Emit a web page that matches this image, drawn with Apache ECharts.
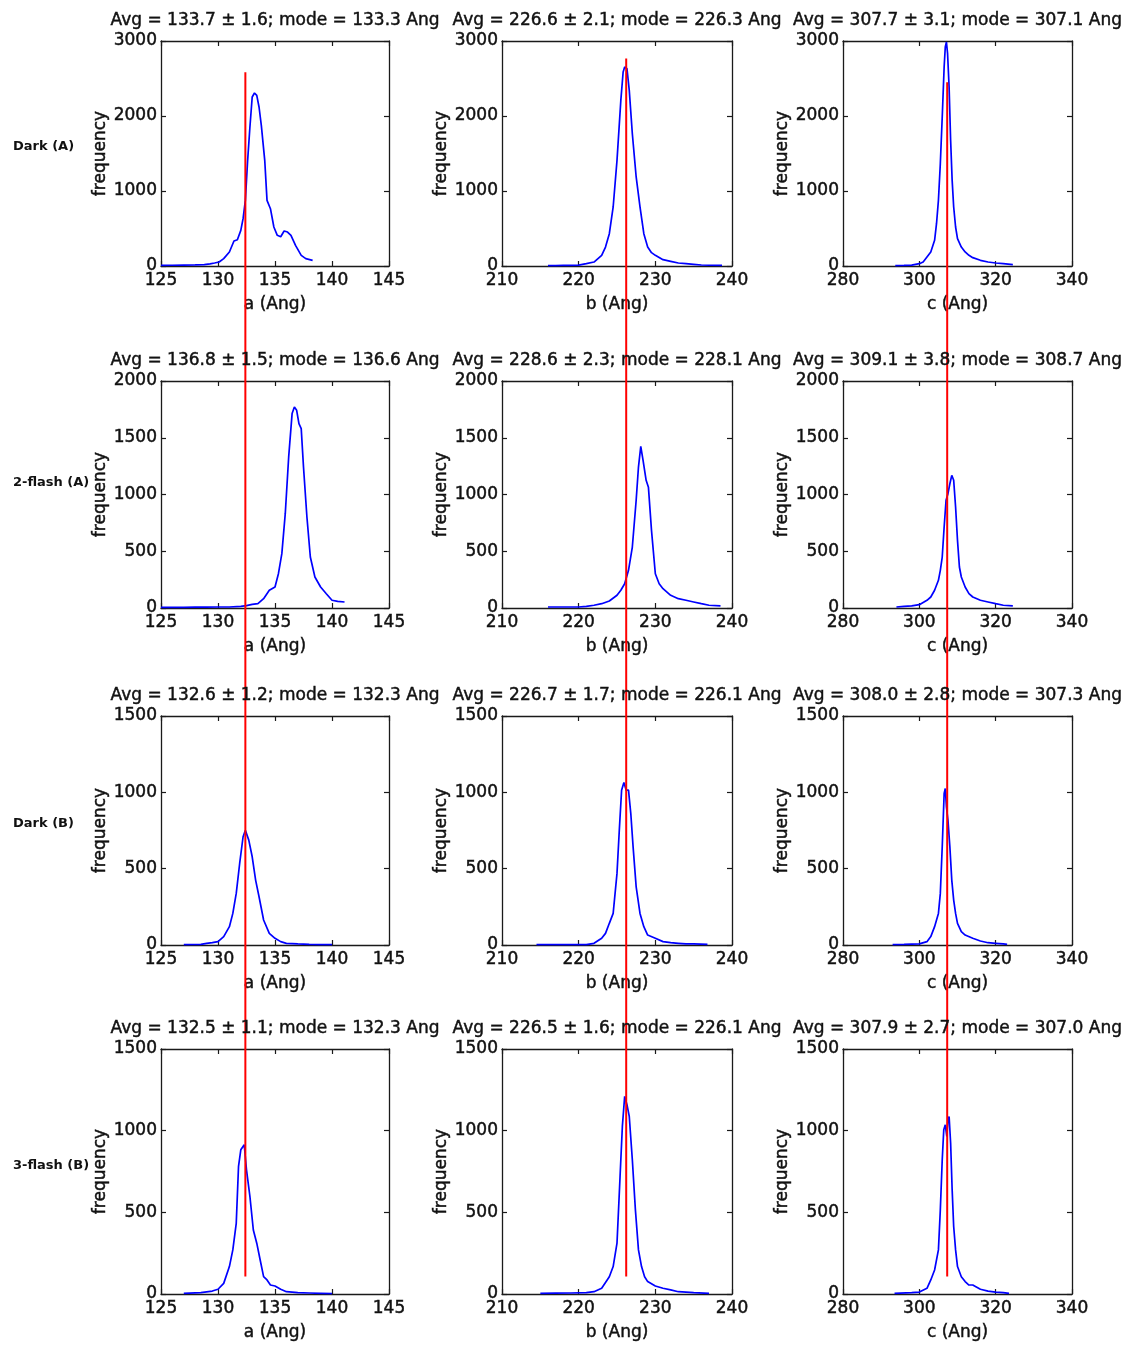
<!DOCTYPE html>
<html><head><meta charset="utf-8">
<script src="https://cdn.jsdelivr.net/npm/echarts@6/dist/echarts.min.js"></script>
<style>html,body{margin:0;padding:0;background:#fff}#chart{width:1136px;height:1347px}</style>
</head><body><div id="chart"></div>
<script>
// ---------- labels & axes ----------
const rowLabels = ['Dark (A)', '2-flash (A)', 'Dark (B)', '3-flash (B)'];
const xNames = ['a (Ang)', 'b (Ang)', 'c (Ang)'];
const yName = 'frequency';
const panelTitles = [
  ['Avg = 133.7 ± 1.6; mode = 133.3 Ang', 'Avg = 226.6 ± 2.1; mode = 226.3 Ang', 'Avg = 307.7 ± 3.1; mode = 307.1 Ang'],
  ['Avg = 136.8 ± 1.5; mode = 136.6 Ang', 'Avg = 228.6 ± 2.3; mode = 228.1 Ang', 'Avg = 309.1 ± 3.8; mode = 308.7 Ang'],
  ['Avg = 132.6 ± 1.2; mode = 132.3 Ang', 'Avg = 226.7 ± 1.7; mode = 226.1 Ang', 'Avg = 308.0 ± 2.8; mode = 307.3 Ang'],
  ['Avg = 132.5 ± 1.1; mode = 132.3 Ang', 'Avg = 226.5 ± 1.6; mode = 226.1 Ang', 'Avg = 307.9 ± 2.7; mode = 307.0 Ang']
];
const xMin = [125, 210, 280];
const xMax = [145, 240, 340];
const xInterval = [5, 10, 20];
const yMax = [3000, 2000, 1500, 1500];
const yInterval = [1000, 500, 500, 500];

// reference (red) lines, one per column
const redX = [132.4, 226.2, 307.3];
const redTopFrac = [0.975, 0.986, 0.967];
const redBottomFrac = 0.014;

// ---------- histogram data [x, frequency] ----------
const darkA_a = [[125.0,8],[126,10],[127,12],[128,14],[128.8,18],[129.3,28],[129.7,40],[130.1,53],[130.5,98],[131.0,187],[131.4,333],[131.7,351],[132.0,475],[132.2,631],[132.4,875],[132.6,1409],[132.8,1853],[133.0,2253],[133.2,2307],[133.4,2275],[133.6,2120],[133.8,1875],[134.1,1409],[134.3,875],[134.6,764],[134.9,520],[135.2,409],[135.5,390],[135.8,467],[136.1,453],[136.4,409],[136.8,276],[137.3,142],[137.7,98],[138.3,76]];
const darkA_b = [[216,5],[217,6],[218,8],[219,9],[220,12],[221,31],[222,53],[223,142],[223.5,253],[224,431],[224.5,787],[225,1409],[225.5,2209],[225.8,2587],[226.0,2653],[226.3,2631],[226.6,2342],[227.0,1764],[227.5,1187],[228,787],[228.5,431],[229,253],[229.5,178],[230,142],[231,84],[232,62],[233,40],[234,31],[235,22],[236,13],[237,10],[238.7,8]];
const darkA_c = [[293.7,5],[296,8],[298,12],[300,31],[301,53],[302,120],[303,187],[304,342],[304.5,564],[305,875],[305.5,1364],[306,1987],[306.5,2653],[306.8,2920],[307.1,2987],[307.4,2831],[307.8,2387],[308.2,1676],[308.6,1142],[309,787],[309.5,520],[310,364],[311,253],[312,187],[313,142],[314,111],[316,76],[318,53],[320,40],[322,31],[324.5,18]];

const flash2A_a = [[125,5],[126,6],[127,5],[128,7],[129,8],[130,9],[131,9],[132,15],[132.5,21],[133,32],[133.5,38],[134,82],[134.5,156],[135,185],[135.3,302],[135.6,479],[135.9,831],[136.2,1331],[136.5,1713],[136.7,1771],[136.9,1742],[137.1,1624],[137.3,1580],[137.5,1242],[137.8,802],[138.1,449],[138.5,273],[139,185],[139.5,126],[140,68],[140.5,59],[141.1,53]];
const flash2A_b = [[216,9],[218,9],[220,9],[221,15],[222,24],[223,38],[224,62],[225,112],[225.5,156],[226,214],[226.5,332],[227,537],[227.5,949],[227.8,1242],[228.1,1424],[228.4,1301],[228.8,1125],[229.1,1063],[229.5,684],[230,302],[230.5,214],[231,170],[232,112],[233,82],[234,68],[235,53],[236,38],[237,24],[238.5,18]];
const flash2A_c = [[294,9],[296,15],[298,18],[300,29],[302,68],[303,97],[304,156],[305,244],[305.5,332],[306,449],[306.5,714],[307,949],[307.5,1007],[308,1095],[308.5,1169],[309,1125],[309.5,890],[310,596],[310.5,361],[311,273],[312,185],[313,126],[314,97],[316,68],[318,53],[320,38],[322,24],[324.5,18]];

const darkB_a = [[127,2],[128.5,4],[129,11],[129.5,15],[130,22],[130.5,55],[131,120],[131.3,207],[131.6,338],[131.9,534],[132.2,709],[132.4,752],[132.7,687],[133.0,578],[133.3,425],[133.6,316],[134,164],[134.5,76],[135,44],[135.5,22],[136,11],[137,7],[138,4],[139,2],[140,2]];
const darkB_b = [[214.5,2],[216,2],[218,2],[220,2],[221,2],[222,11],[223,44],[223.5,76],[224,142],[224.5,207],[225,469],[225.3,752],[225.6,1014],[225.9,1064],[226.2,1014],[226.5,1014],[226.8,861],[227.1,643],[227.5,381],[228,207],[228.5,120],[229,65],[230,44],[231,22],[232,15],[233,11],[234,7],[235,7],[236.8,4]];
const darkB_c = [[293,2],[296,4],[300,7],[302,22],[303,55],[304,120],[305,207],[305.5,338],[306,643],[306.5,992],[306.8,1025],[307.1,905],[307.5,818],[308,643],[308.5,425],[309,294],[309.5,207],[310,142],[311,87],[312,65],[314,44],[316,26],[318,15],[320,11],[322,7],[323,4]];

const flash3B_a = [[127,4],[128.5,8],[129.5,18],[130,29],[130.5,65],[131,168],[131.3,270],[131.6,433],[131.8,781],[132.0,883],[132.3,914],[132.5,760],[132.8,597],[133.1,392],[133.4,311],[133.7,208],[134,106],[134.3,86],[134.6,55],[135,49],[135.5,29],[136,14],[137,8],[138,6],[139,4],[140,2]];
const flash3B_b = [[215,4],[217,5],[219,6],[221,8],[222,14],[223,35],[224,106],[224.5,168],[225,311],[225.4,719],[225.7,1026],[226.0,1210],[226.3,1159],[226.6,1087],[227.0,822],[227.4,515],[227.8,270],[228.2,168],[228.6,106],[229,76],[230,49],[231,35],[232,25],[233,14],[234,12],[235,8],[237,4]];
const flash3B_c = [[293.5,4],[298,8],[300,12],[302,35],[303,86],[304,147],[305,270],[305.5,515],[306,822],[306.4,1006],[306.8,1036],[307.2,965],[307.5,1067],[307.8,1087],[308.2,924],[308.6,638],[309,413],[309.5,270],[310,168],[311,106],[312,76],[313,55],[314,55],[316,29],[318,18],[320,12],[322,8],[323.5,4]];

const panelData = [
  [darkA_a, darkA_b, darkA_c],
  [flash2A_a, flash2A_b, flash2A_c],
  [darkB_a, darkB_b, darkB_c],
  [flash3B_a, flash3B_b, flash3B_c]
];

// ---------- layout (pixels) ----------
const rowTop = [41, 381, 716, 1049];
const rowHeight = [225, 227, 229, 245];
const colLeft = [161, 502, 843];
const colWidth = [228, 230, 229];
const rowLabelY = [147, 483, 824, 1166];

const FONT = 'DejaVu Sans';
const AX = '#1a1a1a';
const TXT = '#111';
const heavy = { textBorderColor: TXT, textBorderWidth: 0.45 };

const grid = [], xAxis = [], yAxis = [], series = [], title = [];

function axisBase() {
  return {
    axisLine: { show: true, onZero: false, lineStyle: { color: AX, width: 1.3 } },
    axisTick: { show: true, inside: true, length: 5, lineStyle: { color: AX, width: 1.2 } },
    splitLine: { show: false }
  };
}
const plain = v => String(v);

for (let r = 0; r < 4; r++) {
  title.push({
    text: rowLabels[r], left: 13, top: rowLabelY[r], textVerticalAlign: 'middle', padding: 0,
    textStyle: { fontFamily: FONT, fontSize: 13, fontWeight: 'bold', color: TXT }
  });
  for (let c = 0; c < 3; c++) {
    const g = grid.length;
    grid.push({ left: colLeft[c], top: rowTop[r], width: colWidth[c], height: rowHeight[r], containLabel: false });
    title.push({
      text: panelTitles[r][c], left: colLeft[c] + colWidth[c] / 2, top: rowTop[r] - 29, textAlign: 'center', padding: 0,
      textStyle: Object.assign({ fontFamily: FONT, fontSize: 17, fontWeight: 'normal', color: TXT }, heavy)
    });
    const xb = Object.assign(axisBase(), {
      type: 'value', gridIndex: g, position: 'bottom', min: xMin[c], max: xMax[c], interval: xInterval[c],
      name: xNames[c], nameLocation: 'middle', nameGap: 30,
      nameTextStyle: Object.assign({ fontFamily: FONT, fontSize: 17, color: TXT }, heavy),
      axisLabel: Object.assign({ fontFamily: FONT, fontSize: 17, color: TXT, margin: 6, formatter: plain }, heavy)
    });
    const xt = Object.assign(axisBase(), {
      type: 'value', gridIndex: g, position: 'top', min: xMin[c], max: xMax[c], interval: xInterval[c],
      axisLabel: { show: false }
    });
    const yl = Object.assign(axisBase(), {
      type: 'value', gridIndex: g, position: 'left', min: 0, max: yMax[r], interval: yInterval[r],
      name: yName, nameLocation: 'middle', nameGap: 50, nameRotate: 90,
      nameTextStyle: Object.assign({ fontFamily: FONT, fontSize: 17, color: TXT }, heavy),
      axisLabel: Object.assign({ fontFamily: FONT, fontSize: 17, color: TXT, margin: 4, formatter: plain }, heavy)
    });
    const yr = Object.assign(axisBase(), {
      type: 'value', gridIndex: g, position: 'right', min: 0, max: yMax[r], interval: yInterval[r],
      axisLabel: { show: false }
    });
    const xi = xAxis.length; xAxis.push(xb, xt);
    const yi = yAxis.length; yAxis.push(yl, yr);
    series.push({
      type: 'line', xAxisIndex: xi, yAxisIndex: yi, data: panelData[r][c],
      symbol: 'none', showSymbol: false, smooth: false,
      lineStyle: { color: '#0000ff', width: 1.7 }, z: 2
    });
  }
}

// overlay grids for the red reference lines spanning all rows
const spanTop = rowTop[0];
const spanBottom = rowTop[3] + rowHeight[3];
for (let c = 0; c < 3; c++) {
  const g = grid.length;
  grid.push({ left: colLeft[c], top: spanTop, width: colWidth[c], height: spanBottom - spanTop });
  const xi = xAxis.length, yi = yAxis.length;
  xAxis.push({ type: 'value', gridIndex: g, min: xMin[c], max: xMax[c], show: false });
  yAxis.push({ type: 'value', gridIndex: g, min: 0, max: 1, show: false });
  series.push({
    type: 'line', xAxisIndex: xi, yAxisIndex: yi,
    data: [[redX[c], redBottomFrac], [redX[c], redTopFrac[c]]],
    symbol: 'none', showSymbol: false, clip: false,
    lineStyle: { color: '#ff0000', width: 2 }, z: 5
  });
}

const chart = echarts.init(document.getElementById('chart'), null, { renderer: 'canvas' });
chart.setOption({
  backgroundColor: '#ffffff',
  animation: false,
  textStyle: { fontFamily: FONT },
  title, grid, xAxis, yAxis, series
});
</script>
</body></html>
